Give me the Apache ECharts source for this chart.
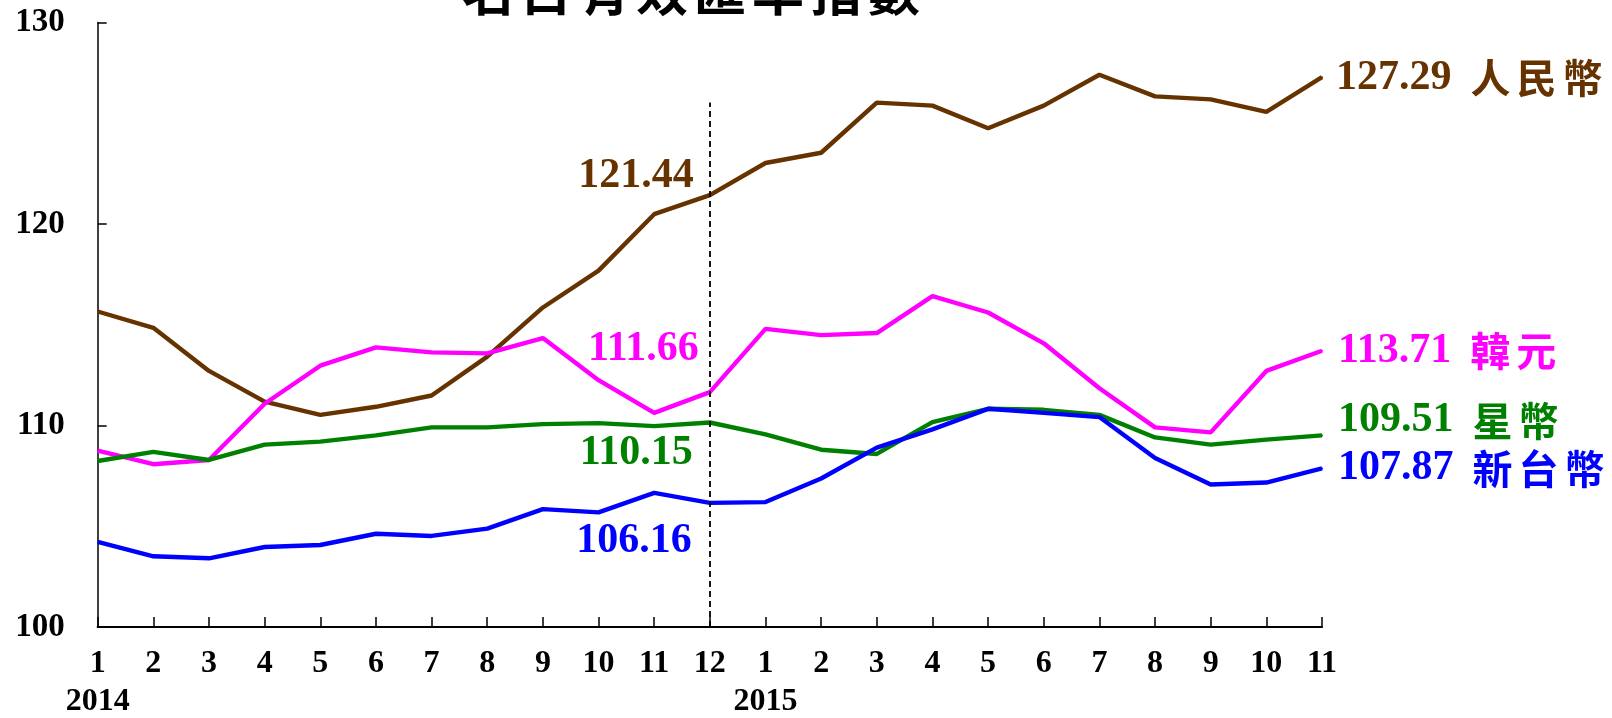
<!DOCTYPE html>
<html>
<head>
<meta charset="utf-8">
<style>
  html, body { margin: 0; padding: 0; background: #fff; }
  #chart { width: 1612px; height: 718px; }
</style>
<script src="https://cdn.jsdelivr.net/npm/echarts@6/dist/echarts.min.js"></script>
</head>
<body>
<div id="chart"></div>
<script>
// Months Jan 2014 .. Nov 2015
const months = ['1','2','3','4','5','6','7','8','9','10','11','12','1','2','3','4','5','6','7','8','9','10','11'];
const years = ['2014','','','','','','','','','','','','2015','','','','','','','','','',''];

const cny = [115.66, 114.85, 112.71, 111.19, 110.53, 110.93, 111.49, 113.42, 115.86, 117.69, 120.49, 121.44,
             123.03, 123.54, 126.03, 125.88, 124.76, 125.88, 127.41, 126.34, 126.19, 125.57, 127.29];
const krw = [108.75, 108.08, 108.29, 111.08, 112.97, 113.88, 113.63, 113.58, 114.34, 112.25, 110.63, 111.66,
             114.80, 114.49, 114.59, 116.42, 115.61, 114.08, 111.85, 109.91, 109.66, 112.71, 113.71];
const sgd = [108.24, 108.69, 108.29, 109.05, 109.20, 109.51, 109.91, 109.91, 110.07, 110.12, 109.97, 110.15,
             109.56, 108.80, 108.59, 110.17, 110.83, 110.78, 110.53, 109.41, 109.05, 109.30, 109.51];
const twd = [104.22, 103.51, 103.41, 103.97, 104.07, 104.63, 104.52, 104.88, 105.85, 105.69, 106.66, 106.16,
             106.20, 107.37, 108.90, 109.81, 110.83, 110.63, 110.42, 108.39, 107.07, 107.17, 107.87];

const yTicks = [100, 110, 120, 130];
const title = '名目有效匯率指數';
const markIndex = 11; // Dec 2014

const serifFont = '"Liberation Serif", "Times New Roman", serif';
const cjkFont = '"Noto Sans CJK TC", "Noto Sans CJK SC", sans-serif';

// Per-series styling: colour, name, and label placement for the Dec-2014 and last points
const seriesDefs = [
  { name: '人民幣', color: '#663300', data: cny, mid: [-16, -19], end: [14, 1] },
  { name: '韓元',   color: '#FF00FF', data: krw, mid: [-11, -43], end: [16, 0] },
  { name: '星幣',   color: '#008000', data: sgd, mid: [-17, 31],  end: [16, -15] },
  { name: '新台幣', color: '#0000FF', data: twd, mid: [-18, 38],  end: [16, 0] }
];

function cjkRich(color) {
  return {
    num: { fontFamily: serifFont, fontWeight: 'bold', fontSize: 42, color: color, padding: [0, 16, 0, 0] },
    c:   { fontFamily: cjkFont, fontWeight: 'bold', fontSize: 40, color: color, padding: [0, 3, 0, 3] }
  };
}

function buildSeries(def) {
  const last = def.data.length - 1;
  const data = def.data.map(function (v, i) {
    if (i === markIndex) {
      return {
        value: v,
        symbol: 'circle', symbolSize: 2,
        label: {
          show: true,
          position: [def.mid[0] + 1, def.mid[1] + 1],
          align: 'right', verticalAlign: 'middle',
          formatter: function (p) { return p.value.toFixed(2); },
          fontFamily: serifFont, fontWeight: 'bold', fontSize: 42, color: def.color
        }
      };
    }
    if (i === last) {
      return {
        value: v,
        symbol: 'circle', symbolSize: 2,
        label: {
          show: true,
          position: [def.end[0] + 1, def.end[1] + 1],
          align: 'left', verticalAlign: 'middle',
          formatter: function (p) {
            const chars = def.name.split('').map(function (ch) { return '{c|' + ch + '}'; }).join('');
            return '{num|' + p.value.toFixed(2) + '}' + chars;
          },
          rich: cjkRich(def.color)
        }
      };
    }
    return { value: v, symbol: 'none' };
  });
  return {
    name: def.name,
    type: 'line',
    data: data,
    showSymbol: true,
    symbol: 'none',
    lineStyle: { color: def.color, width: 4.4 },
    itemStyle: { color: def.color },
    emphasis: { disabled: true },
    animation: false,
    z: 3
  };
}

const series = seriesDefs.map(buildSeries);

// Dashed divider at Dec 2014
series[0].markLine = {
  silent: true,
  symbol: 'none',
  label: { show: false },
  lineStyle: { color: '#000', type: [6, 4], width: 1.8 },
  data: [[{ coord: [markIndex, yTicks[0]] }, { coord: [markIndex, 126.03] }]]
};

const titleRich = {
  t: { fontFamily: cjkFont, fontWeight: 'bold', fontSize: 52, color: '#000', padding: [0, 3, 0, 3] }
};

const chart = echarts.init(document.getElementById('chart'), null, { renderer: 'canvas' });
chart.setOption({
  backgroundColor: '#fff',
  animation: false,
  grid: { left: 97.7, right: 290, top: 22.6, bottom: 89, containLabel: false },
  graphic: [{
    type: 'text',
    left: 702 - 240,
    top: -35,
    style: {
      text: title.split('').map(function (ch) { return '{t|' + ch + '}'; }).join(''),
      rich: titleRich
    }
  }],
  xAxis: {
    type: 'category',
    boundaryGap: false,
    data: months,
    axisLine: { lineStyle: { color: '#000', width: 2.2 } },
    axisTick: { show: true, inside: true, length: 10, alignWithLabel: true, lineStyle: { color: '#000', width: 1.5 } },
    axisLabel: {
      interval: 0,
      margin: 18,
      formatter: function (val, idx) {
        return years[idx] ? '{m|' + val + '}\n{y|' + years[idx] + '}' : '{m|' + val + '}';
      },
      rich: {
        m: { fontFamily: serifFont, fontWeight: 'bold', fontSize: 32, color: '#000', lineHeight: 38 },
        y: { fontFamily: serifFont, fontWeight: 'bold', fontSize: 32, color: '#000', lineHeight: 38 }
      }
    },
    splitLine: { show: false }
  },
  yAxis: {
    type: 'value',
    min: yTicks[0],
    max: yTicks[yTicks.length - 1],
    interval: 10,
    axisLine: { show: true, lineStyle: { color: '#000', width: 1.5 } },
    axisTick: { show: true, inside: true, length: 9, lineStyle: { color: '#000', width: 1.5 } },
    axisLabel: { margin: 33, fontFamily: serifFont, fontWeight: 'bold', fontSize: 33, color: '#000' },
    splitLine: { show: false }
  },
  series: series
});
</script>
</body>
</html>
